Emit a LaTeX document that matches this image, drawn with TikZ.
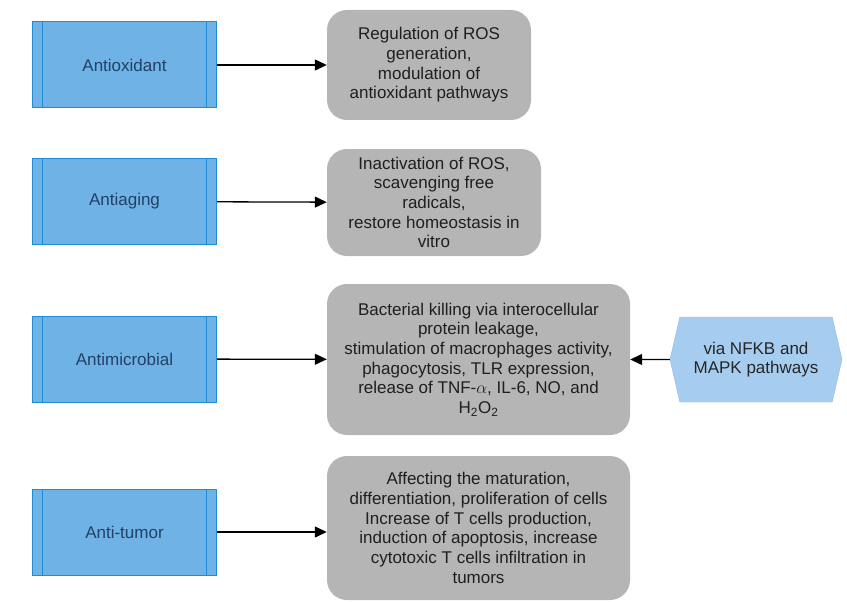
\documentclass[tikz,border=0pt]{standalone}
\usepackage{fontspec}
\setmainfont{Liberation Sans}
\usepackage{tikz}
\usetikzlibrary{shapes.symbols}
\usetikzlibrary{arrows.meta}
\usepackage{xcolor}
\definecolor{procfill}{RGB}{110,178,230}
\definecolor{procline}{RGB}{30,140,212}
\definecolor{proctext}{RGB}{35,65,100}
\definecolor{effectfill}{RGB}{181,181,181}
\definecolor{hexfill}{RGB}{166,205,240}
\definecolor{hexline}{RGB}{140,190,235}

\begin{document}
\begin{tikzpicture}[x=1pt,y=-1pt,
    font=\fontsize{17}{19.7}\selectfont,
    activity/.style={draw=procline, line width=1pt, fill=procfill, text=proctext,
        rectangle, minimum width=184pt, minimum height=86pt, inner sep=0pt,
        path picture={
            \draw[procline, line width=1pt]
                ([xshift=10pt]path picture bounding box.north west) --
                ([xshift=10pt]path picture bounding box.south west);
            \draw[procline, line width=1pt]
                ([xshift=-10pt]path picture bounding box.north east) --
                ([xshift=-10pt]path picture bounding box.south east);
        }},
    effect/.style={fill=effectfill, rounded corners=20pt, align=center,
        inner sep=0pt, text=black!88},
    route/.style={draw=hexline, fill=hexfill, shape=signal, signal to=west and east,
        signal pointer angle=154, minimum width=172pt, minimum height=85pt,
        align=center, inner sep=0pt, text=black!85},
    link/.style={-{Triangle[length=12pt,width=11pt]}, line width=1.3pt}]

            \useasboundingbox (0,0) rectangle (847,602);

            % activities
            \node[activity] (antiox) at (124.5,65) {Antioxidant};
            \node[activity] (antiage) at (124.5,201.5) {Antiaging};
            \node[activity] (antimic) at (124.5,359) {Antimicrobial};
            \node[activity] (antitum) at (124.5,532) {Anti-tumor};

            % effects
            \node[effect, minimum width=204pt, minimum height=110pt] (oxeff) at (429,65)
                {Regulation of ROS\\generation,\\modulation of\\antioxidant pathways};
            \node[effect, minimum width=214pt, minimum height=107pt] (ageeff) at (434,202.5)
                {Inactivation of ROS,\\scavenging free\\radicals,\\restore homeostasis in\\vitro};
            \node[effect, minimum width=303pt, minimum height=151pt] (miceff) at (478.5,359.5)
                {Bacterial killing via interocellular\\protein leakage,\\stimulation of macrophages activity,\\phagocytosis, TLR expression,\\release of TNF-$\alpha$, IL-6, NO, and\\H\textsubscript{2}O\textsubscript{2}};
            \node[effect, minimum width=303pt, minimum height=144pt] (tumeff) at (478.5,528)
                {Affecting the maturation,\\differentiation, proliferation of cells\\Increase of T cells production,\\induction of apoptosis, increase\\cytotoxic T cells infiltration in\\tumors};

            \node[route] (path) at (756,359.5) {via NFKB and\\MAPK pathways};

            \draw[link] (antiox) -- (oxeff);
            \draw[link] (antiage) -- (ageeff);
            \draw[link] (antimic) -- (miceff);
            \draw[link] (antitum) -- (tumeff.west |- antitum);
            \draw[link] (path) -- (miceff);
        \end{tikzpicture}
\end{document}
